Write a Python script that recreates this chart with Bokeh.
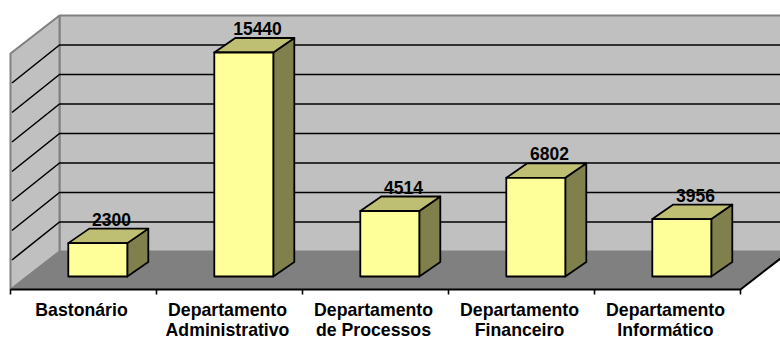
from bokeh.core.properties import value
from bokeh.embed import file_html
from bokeh.models import Range1d
from bokeh.plotting import figure
from bokeh.resources import INLINE

# Figures per department
categories = ["Bastonário", "Departamento\nAdministrativo", "Departamento\nde Processos",
              "Departamento\nFinanceiro", "Departamento\nInformático"]
values = [2300, 15440, 4514, 6802, 3956]
wall_ticks = [2000, 4000, 6000, 8000, 10000, 12000, 14000]
wall_top = 16000

# Plot-area scale: pixels per category and per unit of value
W, H = 780, 340
PX_CAT = 146.0
CAT0_PX = 83.0
BASE_PX = 276.0
PX_VALUE = 224.0 / 15440
WALL_BASE_PX = 251.0
PX_WALL = 29.5 / 2000

# Oblique projection offsets
WALL_DX, WALL_DY = 49.0, 38.0
BAR_DX, BAR_DY = 21.0, 14.5
BAR_W, BAR_SHIFT = 59.0, 14.3

x_range = Range1d(-CAT0_PX / PX_CAT, (W - CAT0_PX) / PX_CAT)
y_range = Range1d((BASE_PX - H) / PX_VALUE, BASE_PX / PX_VALUE)

p = figure(width=W, height=H, x_range=x_range, y_range=y_range, output_backend="svg",
           toolbar_location=None, min_border=0, outline_line_color=None)
p.extra_y_ranges["wall"] = Range1d((WALL_BASE_PX - H) / PX_WALL, WALL_BASE_PX / PX_WALL)
p.xaxis.visible = False
p.yaxis.visible = False
p.xgrid.visible = False
p.ygrid.visible = False
p.background_fill_color = "white"
p.border_fill_color = "white"

dx = WALL_DX / PX_CAT
dy = WALL_DY / PX_WALL
x0 = -0.5
x1 = len(categories) - 0.5
edge = "#808080"

# Back wall, side wall and floor
p.patch([x0 + dx, x1 + dx, x1 + dx, x0 + dx], [0, 0, wall_top, wall_top], y_range_name="wall",
        fill_color="#c0c0c0", line_color=edge, line_width=2)
p.patch([x0, x0 + dx, x0 + dx, x0], [-dy, 0, wall_top, wall_top - dy], y_range_name="wall",
        fill_color="#c0c0c0", line_color=edge, line_width=2)
p.patch([x0, x1, x1 + dx, x0 + dx], [-dy, -dy, 0, 0], y_range_name="wall",
        fill_color="#808080", line_color=edge, line_width=1)

# Gridlines running across both walls
for tick in wall_ticks:
    p.line([x0 + 0.01, x0 + dx, x1 + dx], [tick - dy, tick, tick], y_range_name="wall",
           line_color="black", line_width=1.6)

# Front and right floor edges with the category boundary ticks
p.line([x0, x1, x1 + dx], [-dy, -dy, 0], y_range_name="wall", line_color="black", line_width=2)
tick_len = 5 / PX_WALL
for i in range(len(categories) + 1):
    p.segment(x0 + i, -dy, x0 + i, -dy - tick_len, y_range_name="wall",
              line_color="black", line_width=1.6)

# Bars as three-faced boxes
half = BAR_W / 2 / PX_CAT
shift = BAR_SHIFT / PX_CAT
bdx = BAR_DX / PX_CAT
bdy = BAR_DY / PX_VALUE
for i, v in enumerate(values):
    left, right = i + shift - half, i + shift + half
    p.patch([right, right + bdx, right + bdx, right], [0, bdy, v + bdy, v],
            fill_color="#80804d", line_color="black", line_width=1.8, line_join="round")
    p.patch([left, right, right + bdx, left + bdx], [v, v, v + bdy, v + bdy],
            fill_color="#bfbf73", line_color="black", line_width=1.8, line_join="round")
    p.patch([left, right, right, left], [0, 0, v, v],
            fill_color="#ffff99", line_color="black", line_width=1.8, line_join="round")

# Value labels above each box
p.text([i + 28 / PX_CAT for i in range(len(values))],
       [v + bdy + 9.5 / PX_VALUE for v in values],
       text=[str(v) for v in values], text_font_size="17.5px", text_font_style="bold",
       text_font=value("Liberation Sans"), text_color="black",
       text_align="center", text_baseline="alphabetic")

# Category labels, drawn line by line below the floor edge
for line_no, line_px in enumerate((309, 329.5)):
    rows = [(i, c.split("\n")[line_no]) for i, c in enumerate(categories) if "\n" in c or line_no == 0]
    p.text([i - 2 / PX_CAT for i, _ in rows],
           [-(line_px - BASE_PX) / PX_VALUE] * len(rows),
           text=[t for _, t in rows], text_font_size="17.7px", text_font_style="bold",
           text_font=value("Liberation Sans"), text_color="black",
           text_align="center", text_baseline="middle")

open("out.html", "w").write(file_html(p, INLINE))
